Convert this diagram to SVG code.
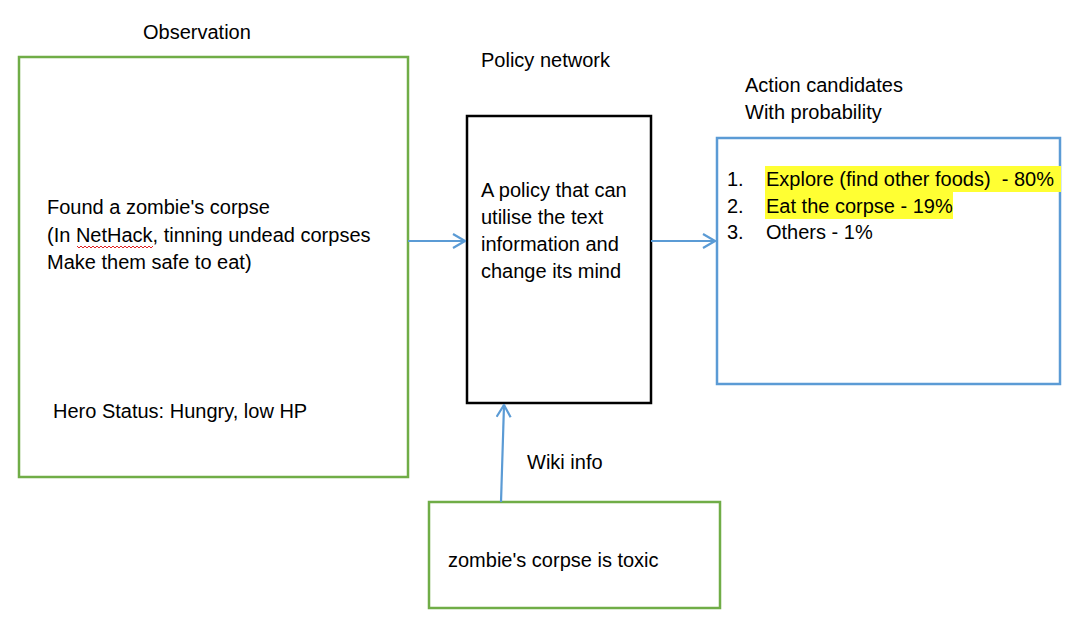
<svg xmlns="http://www.w3.org/2000/svg" width="1084" height="635" viewBox="0 0 1084 635">
<defs>
<marker id="arr" viewBox="0 0 14 16" refX="13" refY="8" markerWidth="14" markerHeight="16" markerUnits="userSpaceOnUse" orient="auto">
<polyline points="1,1 13,8 1,15" fill="none" stroke="#5B9BD5" stroke-width="2.2"/>
</marker>
</defs>
<style>
text{font-family:"Liberation Sans",Arial,sans-serif;font-size:20px;fill:#000;white-space:pre}
.green{fill:#fff;stroke:#70AD47;stroke-width:2.5}
.black{fill:#fff;stroke:#000;stroke-width:2.5}
.blue{fill:#fff;stroke:#5B9BD5;stroke-width:2.5}
.conn{stroke:#5B9BD5;stroke-width:2.2;fill:none}
.hl{fill:#FFFF33}
</style>
<rect width="1084" height="635" fill="#fff"/>
<g id="observation">
<text x="143" y="39">Observation</text>
<rect class="green" x="19" y="57" width="389" height="420"/>
<text x="47" y="214">Found a zombie's corpse</text>
<text x="47" y="242">(In NetHack, tinning undead corpses</text>
<text x="47" y="269">Make them safe to eat)</text>
<path d="M77,246 l2,2 2,-2 2,2 2,-2 2,2 2,-2 2,2 2,-2 2,2 2,-2 2,2 2,-2 2,2 2,-2 2,2 2,-2 2,2 2,-2 2,2 2,-2 2,2 2,-2 2,2 2,-2 2,2 2,-2 2,2 2,-2 2,2 2,-2 2,2 2,-2 2,2 2,-2 2,2 2,-2 2,2 2,-2" fill="none" stroke="#E02020" stroke-width="1"/>
<text x="53" y="418">Hero Status: Hungry, low HP</text>
</g>
<g id="policy">
<text x="481" y="67">Policy network</text>
<rect class="black" x="467" y="116" width="184" height="287"/>
<text x="481" y="197">A policy that can</text>
<text x="481" y="224">utilise the text</text>
<text x="481" y="251">information and</text>
<text x="481" y="278">change its mind</text>
</g>
<g id="actions">
<text x="745" y="92">Action candidates</text>
<text x="745" y="119">With probability</text>
<rect class="blue" x="717" y="138" width="343" height="246"/>
<rect class="hl" x="765" y="166" width="296" height="26"/>
<rect class="hl" x="765" y="192" width="188" height="27"/>
<text x="727" y="186">1.</text>
<text x="766" y="186">Explore (find other foods)  - 80%</text>
<text x="727" y="213">2.</text>
<text x="766" y="213">Eat the corpse - 19%</text>
<text x="727" y="239">3.</text>
<text x="766" y="239">Others - 1%</text>
</g>
<g id="wiki">
<text x="527" y="469">Wiki info</text>
<rect class="green" x="429" y="502" width="291" height="106"/>
<text x="448" y="567">zombie's corpse is toxic</text>
</g>
<g id="connectors">
<line class="conn" x1="408" y1="241" x2="465" y2="241" marker-end="url(#arr)"/>
<line class="conn" x1="651" y1="241" x2="715" y2="241" marker-end="url(#arr)"/>
<line class="conn" x1="501" y1="502" x2="504" y2="405" marker-end="url(#arr)"/>
</g>
</svg>
